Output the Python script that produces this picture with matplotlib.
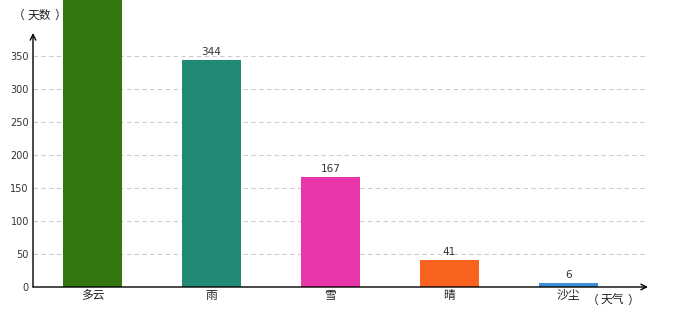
import matplotlib
matplotlib.use("Agg")
import matplotlib.pyplot as plt

categories = ["多云", "雨", "雪", "晴", "沙尘"]
values = [440, 344, 167, 41, 6]
colors = ["#337710", "#228A74", "#E835A8", "#F7621E", "#3A8FD6"]
yticks = [0, 50, 100, 150, 200, 250, 300, 350]

plt.rcParams['font.family'] = ['Noto Sans CJK SC', 'DejaVu Sans']

fig = plt.figure(figsize=(6.8, 3.2), dpi=100)
ax = fig.add_axes([33/680, 1 - 287/320, (648 - 33)/680, 287/320])
ax.set_xlim(-0.5, 4.67)
ax.set_ylim(0, 435)
for s in ax.spines.values():
    s.set_visible(False)

ax.set_yticks(yticks)
ax.set_yticklabels([str(t) for t in yticks], fontsize=7, color="#333333", family="DejaVu Sans")
ax.tick_params(axis='y', length=0, pad=3)
ax.set_xticks(range(len(categories)))
ax.set_xticklabels(categories, fontsize=8.5, color="#222222")
ax.tick_params(axis='x', length=0, pad=1.5)

for t in yticks[1:]:
    ax.axhline(t, color="#cccccc", lw=0.8, ls=(0, (4, 3)), zorder=0)

bars = ax.bar(range(len(categories)), values, width=0.5, color=colors, zorder=2)
for i, v in enumerate(values):
    ax.annotate(str(v), (i, v), xytext=(0, 2), textcoords="offset points",
                ha="center", va="bottom", fontsize=7.5, color="#333333",
                family="DejaVu Sans", annotation_clip=True)

# axes with arrows
ax.annotate("", xy=(4.67, 0), xytext=(-0.5, 0),
            arrowprops=dict(arrowstyle="->", color="black", lw=1, shrinkA=0, shrinkB=0),
            annotation_clip=False, zorder=5)
ax.annotate("", xy=(-0.5, 385), xytext=(-0.5, 0),
            arrowprops=dict(arrowstyle="->", color="black", lw=1, shrinkA=0, shrinkB=0),
            annotation_clip=False, zorder=5)

def unit_label(text, centers, ypix):
    pieces = ["（", text, "）"]
    for p, cx in zip(pieces, centers):
        fig.text(cx/680, 1 - ypix/320, p, fontsize=8.5, color="#222222",
                 va="center", ha="center")

unit_label("天数", [18.5, 39.5, 60.5], 15)
unit_label("天气", [592.5, 612.5, 633.5], 300)

fig.savefig("out.png", dpi=100)
